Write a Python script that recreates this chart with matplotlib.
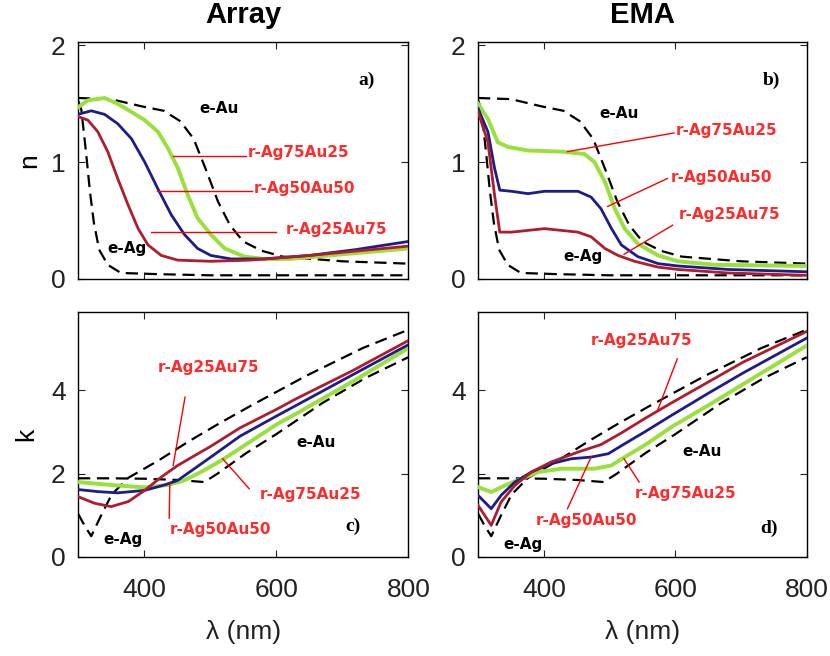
import matplotlib.pyplot as plt
import numpy as np

# --- n, Array (panel a)
na_x_75 = [300, 315, 340, 360, 381, 401, 421, 436, 451, 466, 481, 501, 522, 552, 582, 620, 700, 800]
na_y_75 = [1.47, 1.53, 1.55, 1.50, 1.43, 1.36, 1.26, 1.12, 0.95, 0.72, 0.52, 0.38, 0.26, 0.19, 0.17, 0.17, 0.21, 0.26]
na_x_50 = [300, 320, 340, 360, 381, 401, 421, 441, 461, 481, 501, 532, 580, 650, 720, 800]
na_y_50 = [1.41, 1.44, 1.41, 1.33, 1.20, 1.00, 0.77, 0.55, 0.38, 0.26, 0.20, 0.17, 0.17, 0.20, 0.25, 0.32]
na_x_25 = [300, 315, 330, 345, 360, 376, 391, 406, 426, 451, 501, 560, 650, 800]
na_y_25 = [1.39, 1.36, 1.26, 1.09, 0.86, 0.63, 0.43, 0.29, 0.20, 0.16, 0.15, 0.16, 0.20, 0.28]

# --- n, EMA (panel b)
nb_x_75 = [300, 315, 330, 346, 376, 427, 462, 477, 493, 508, 523, 543, 574, 604, 660, 800]
nb_y_75 = [1.50, 1.37, 1.17, 1.13, 1.10, 1.09, 1.07, 1.00, 0.83, 0.60, 0.43, 0.30, 0.20, 0.15, 0.12, 0.11]
nb_x_50 = [300, 315, 325, 333, 351, 376, 401, 452, 472, 487, 503, 518, 543, 574, 604, 680, 800]
nb_y_50 = [1.46, 1.26, 0.95, 0.76, 0.75, 0.73, 0.75, 0.75, 0.70, 0.60, 0.43, 0.29, 0.19, 0.13, 0.11, 0.08, 0.06]
nb_x_25 = [300, 315, 325, 333, 351, 401, 452, 472, 493, 513, 538, 574, 604, 680, 800]
nb_y_25 = [1.43, 1.17, 0.72, 0.40, 0.40, 0.43, 0.40, 0.36, 0.26, 0.20, 0.15, 0.10, 0.08, 0.05, 0.03]

# --- experimental n of Au and Ag
n_au_x = [300, 350, 395, 430, 455, 475, 494, 512, 530, 550, 578, 610, 700, 800]
n_au_y = [1.55, 1.54, 1.48, 1.44, 1.35, 1.20, 0.93, 0.66, 0.46, 0.32, 0.24, 0.19, 0.15, 0.13]
n_ag_x = [300, 305, 312, 318, 324, 332, 345, 365, 420, 500, 800]
n_ag_y = [1.53, 1.45, 1.09, 0.75, 0.48, 0.25, 0.12, 0.05, 0.04, 0.03, 0.03]

# --- k, Array (panel c)
kc_x_75 = [300, 350, 401, 436, 461, 486, 517, 552, 602, 630, 716, 800]
kc_y_75 = [1.80, 1.73, 1.67, 1.73, 1.84, 2.04, 2.32, 2.68, 3.20, 3.44, 4.22, 5.02]
kc_x_50 = [300, 330, 360, 401, 431, 451, 476, 501, 545, 602, 630, 716, 800]
kc_y_50 = [1.62, 1.57, 1.54, 1.60, 1.73, 1.84, 2.12, 2.40, 2.90, 3.40, 3.64, 4.38, 5.10]
kc_x_25 = [300, 325, 350, 376, 401, 426, 451, 501, 545, 602, 630, 716, 800]
kc_y_25 = [1.45, 1.29, 1.21, 1.33, 1.60, 1.92, 2.20, 2.66, 3.10, 3.56, 3.80, 4.48, 5.20]

# --- k, EMA (panel d)
kd_x_75 = [300, 320, 341, 366, 391, 427, 477, 503, 523, 553, 594, 652, 703, 800]
kd_y_75 = [1.68, 1.56, 1.72, 1.88, 2.04, 2.12, 2.12, 2.20, 2.40, 2.68, 3.12, 3.66, 4.15, 5.08]
kd_x_50 = [300, 320, 335, 356, 381, 411, 442, 472, 498, 523, 553, 594, 652, 703, 800]
kd_y_50 = [1.48, 1.16, 1.48, 1.80, 2.04, 2.24, 2.36, 2.40, 2.48, 2.72, 3.00, 3.40, 3.95, 4.42, 5.26]
kd_x_25 = [300, 320, 335, 356, 381, 411, 452, 487, 518, 553, 594, 652, 703, 800]
kd_y_25 = [1.24, 0.76, 1.32, 1.72, 2.04, 2.28, 2.52, 2.70, 2.98, 3.32, 3.70, 4.22, 4.68, 5.42]

# --- experimental k of Au and Ag
k_au_x = [300, 350, 400, 450, 491, 511, 555, 600, 670, 735, 800]
k_au_y = [1.89, 1.89, 1.88, 1.85, 1.80, 2.00, 2.50, 2.95, 3.70, 4.30, 4.80]
k_ag_x = [300, 310, 320, 335, 351, 376, 422, 470, 515, 560, 645, 731, 800]
k_ag_y = [1.04, 0.75, 0.50, 1.00, 1.50, 1.90, 2.32, 2.80, 3.22, 3.62, 4.35, 5.02, 5.46]

GREEN = '#98e03a'
BLUE = '#1c1c8c'
RED = '#b01c2c'
LRED = '#ff2a2a'

plt.rcParams['font.family'] = ['Liberation Sans', 'DejaVu Sans']

fig = plt.figure(figsize=(8.3, 6.56), dpi=100)
ax_a = fig.add_axes([0.094, 0.575, 0.398, 0.361])
ax_b = fig.add_axes([0.576, 0.575, 0.396, 0.361])
ax_c = fig.add_axes([0.094, 0.151, 0.398, 0.373])
ax_d = fig.add_axes([0.576, 0.151, 0.396, 0.373])

dash = (0, (5.5, 3))


def draw(ax, exp, curves):
    for x, y in exp:
        ax.plot(x, y, color='black', lw=1.6, ls=dash, zorder=2)
    (x75, y75), (x50, y50), (x25, y25) = curves
    ax.plot(x75, y75, color=GREEN, lw=2.8, zorder=3, solid_joinstyle='round')
    ax.plot(x50, y50, color=BLUE, lw=2.0, zorder=4, solid_joinstyle='round')
    ax.plot(x25, y25, color=RED, lw=2.0, zorder=5, solid_joinstyle='round')
    ax.set_xlim(300, 800)
    ax.set_xticks([400, 600, 800])
    ax.tick_params(direction='in', top=True, right=True, length=5,
                   labelsize=19, colors='#222222')
    ax.tick_params(axis='y', pad=9)
    ax.tick_params(axis='x', pad=15)
    for s in ax.spines.values():
        s.set_linewidth(1.0)


def label(ax, text, xy, color=LRED):
    ax.text(xy[0], xy[1], text, color=color, fontsize=11, fontweight='bold',
            family='DejaVu Sans', va='center', ha='left', zorder=6)


def pointer(ax, p0, p1):
    ax.plot([p0[0], p1[0]], [p0[1], p1[1]], color='red', lw=1.0, zorder=6)


def tag(ax, text, xy):
    ax.text(xy[0], xy[1], text, family='Liberation Serif', fontweight='bold',
            fontsize=14, va='center', ha='left')


# panel a
draw(ax_a, [(n_au_x, n_au_y), (n_ag_x, n_ag_y)],
     [(na_x_75, na_y_75), (na_x_50, na_y_50), (na_x_25, na_y_25)])
ax_a.set_ylim(0, 2.03)
ax_a.set_yticks([0, 1, 2])
ax_a.set_xticklabels([])
ax_a.set_ylabel('n', fontsize=19, labelpad=7)
ax_a.set_title('Array', fontsize=21, fontweight='bold', pad=14)
label(ax_a, 'e-Au', (484, 1.46), 'black')
label(ax_a, 'e-Ag', (344, 0.26), 'black')
label(ax_a, 'r-Ag75Au25', (557, 1.08))
label(ax_a, 'r-Ag50Au50', (566, 0.77))
label(ax_a, 'r-Ag25Au75', (614, 0.42))
pointer(ax_a, (444, 1.05), (554, 1.05))
pointer(ax_a, (419, 0.75), (563, 0.75))
pointer(ax_a, (411, 0.40), (599, 0.40))
tag(ax_a, 'a)', (725, 1.70))

# panel b
draw(ax_b, [(n_au_x, n_au_y), (n_ag_x, n_ag_y)],
     [(nb_x_75, nb_y_75), (nb_x_50, nb_y_50), (nb_x_25, nb_y_25)])
ax_b.set_ylim(0, 2.03)
ax_b.set_yticks([0, 1, 2])
ax_b.set_xticklabels([])
ax_b.set_title('EMA', fontsize=21, fontweight='bold', pad=14)
label(ax_b, 'e-Au', (484, 1.42), 'black')
label(ax_b, 'e-Ag', (429, 0.19), 'black')
label(ax_b, 'r-Ag75Au25', (601, 1.27))
label(ax_b, 'r-Ag50Au50', (593, 0.87))
label(ax_b, 'r-Ag25Au75', (606, 0.55))
pointer(ax_b, (436, 1.09), (598, 1.25))
pointer(ax_b, (497, 0.62), (588, 0.86))
pointer(ax_b, (522, 0.21), (596, 0.46))
tag(ax_b, 'b)', (733, 1.70))

# panel c
draw(ax_c, [(k_au_x, k_au_y), (k_ag_x, k_ag_y)],
     [(kc_x_75, kc_y_75), (kc_x_50, kc_y_50), (kc_x_25, kc_y_25)])
ax_c.set_ylim(0, 5.88)
ax_c.set_yticks([0, 2, 4])
ax_c.set_ylabel('k', fontsize=19, labelpad=9)
ax_c.set_xlabel('λ (nm)', fontsize=19, color='#222222', labelpad=13)
label(ax_c, 'r-Ag25Au75', (421, 4.56))
label(ax_c, 'e-Au', (630, 2.76), 'black')
label(ax_c, 'r-Ag75Au25', (575, 1.49))
label(ax_c, 'r-Ag50Au50', (439, 0.66))
label(ax_c, 'e-Ag', (339, 0.41), 'black')
pointer(ax_c, (462, 3.84), (444, 2.20))
pointer(ax_c, (519, 2.36), (559, 1.64))
pointer(ax_c, (439, 1.77), (438, 0.93))
tag(ax_c, 'c)', (705, 0.73))

# panel d
draw(ax_d, [(k_au_x, k_au_y), (k_ag_x, k_ag_y)],
     [(kd_x_75, kd_y_75), (kd_x_50, kd_y_50), (kd_x_25, kd_y_25)])
ax_d.set_ylim(0, 5.88)
ax_d.set_yticks([0, 2, 4])
ax_d.set_xlabel('λ (nm)', fontsize=19, color='#222222', labelpad=13)
label(ax_d, 'r-Ag25Au75', (472, 5.20))
label(ax_d, 'e-Au', (611, 2.54), 'black')
label(ax_d, 'r-Ag75Au25', (538, 1.52))
label(ax_d, 'r-Ag50Au50', (388, 0.88))
label(ax_d, 'e-Ag', (338, 0.30), 'black')
pointer(ax_d, (603, 4.76), (573, 3.52))
pointer(ax_d, (522, 2.36), (545, 1.80))
pointer(ax_d, (472, 2.40), (436, 1.16))
tag(ax_d, 'd)', (730, 0.68))

fig.savefig('out.png', dpi=100)
